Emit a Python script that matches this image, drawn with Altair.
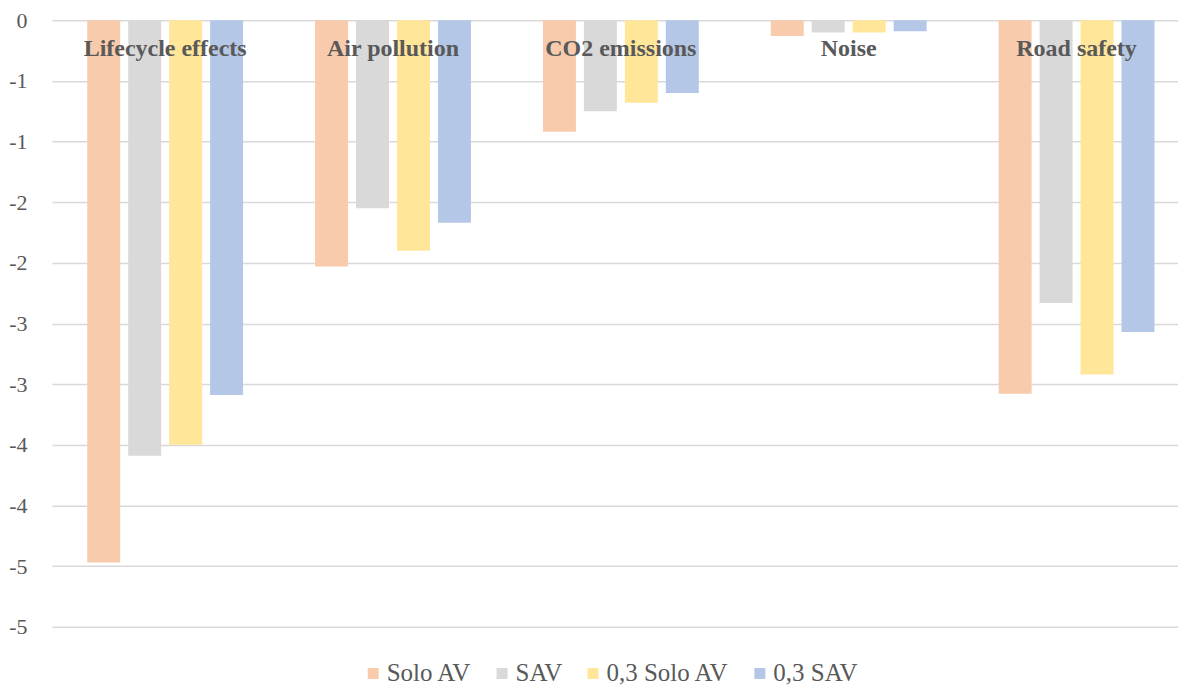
import altair as alt
import pandas as pd

categories = ["Lifecycle effects", "Air pollution", "CO2 emissions", "Noise", "Road safety"]
series = ["Solo AV", "SAV", "0,3 Solo AV", "0,3 SAV"]
colors = ["#F8CBAD", "#D9D9D9", "#FFE699", "#B4C7E7"]

solo_av = [-4.47, -2.03, -0.92, -0.13, -3.08]
sav = [-3.59, -1.55, -0.75, -0.10, -2.33]
solo_av_03 = [-3.50, -1.90, -0.68, -0.10, -2.92]
sav_03 = [-3.09, -1.67, -0.60, -0.09, -2.57]

y_ticks = [0, -0.5, -1, -1.5, -2, -2.5, -3, -3.5, -4, -4.5, -5]

rows = []
for s, vals in zip(series, [solo_av, sav, solo_av_03, sav_03]):
    for c, v in zip(categories, vals):
        rows.append({"Category": c, "Series": s, "Value": v})
df = pd.DataFrame(rows)

FONT = "Liberation Serif"
GREY = "#595959"

chart = alt.Chart(df).mark_bar().encode(
    x=alt.X("Category:N", sort=categories,
            scale=alt.Scale(paddingInner=0.316, paddingOuter=0.129, align=0.6),
            axis=alt.Axis(orient="top", title=None, domain=False, ticks=False, tickSize=0,
                          labelPadding=-35, labelBaseline="alphabetic", zindex=1,
                          labelFont=FONT, labelFontSize=24, labelFontWeight="bold",
                          labelColor=GREY, labelAngle=0)),
    xOffset=alt.XOffset("Series:N", sort=series,
                        scale=alt.Scale(paddingInner=0.195, paddingOuter=0)),
    y=alt.Y("Value:Q", scale=alt.Scale(domain=[-5, 0], nice=False),
            axis=alt.Axis(title=None, values=y_ticks, domain=False, ticks=False,
                          labelExpr="datum.value == 0 ? '0' : '-' + round(abs(datum.value))",
                          labelFont=FONT, labelFontSize=22, labelColor=GREY, labelPadding=25,
                          gridColor="#D9D9D9", gridWidth=1.5)),
    color=alt.Color("Series:N", sort=series,
                    scale=alt.Scale(domain=series, range=colors),
                    legend=alt.Legend(title=None, orient="none", direction="horizontal",
                                      legendX=309, legendY=641,
                                      symbolType="square", symbolSize=121, symbolStrokeWidth=0,
                                      labelFont=FONT, labelFontSize=25, labelColor=GREY,
                                      labelOffset=1, columnPadding=18)),
).properties(
    width=1127, height=607,
    padding={"left": 0, "top": 1, "right": 0, "bottom": 0},
).configure_view(stroke=None)

chart.save("out.html", embed_options={"renderer": "svg", "actions": False})
